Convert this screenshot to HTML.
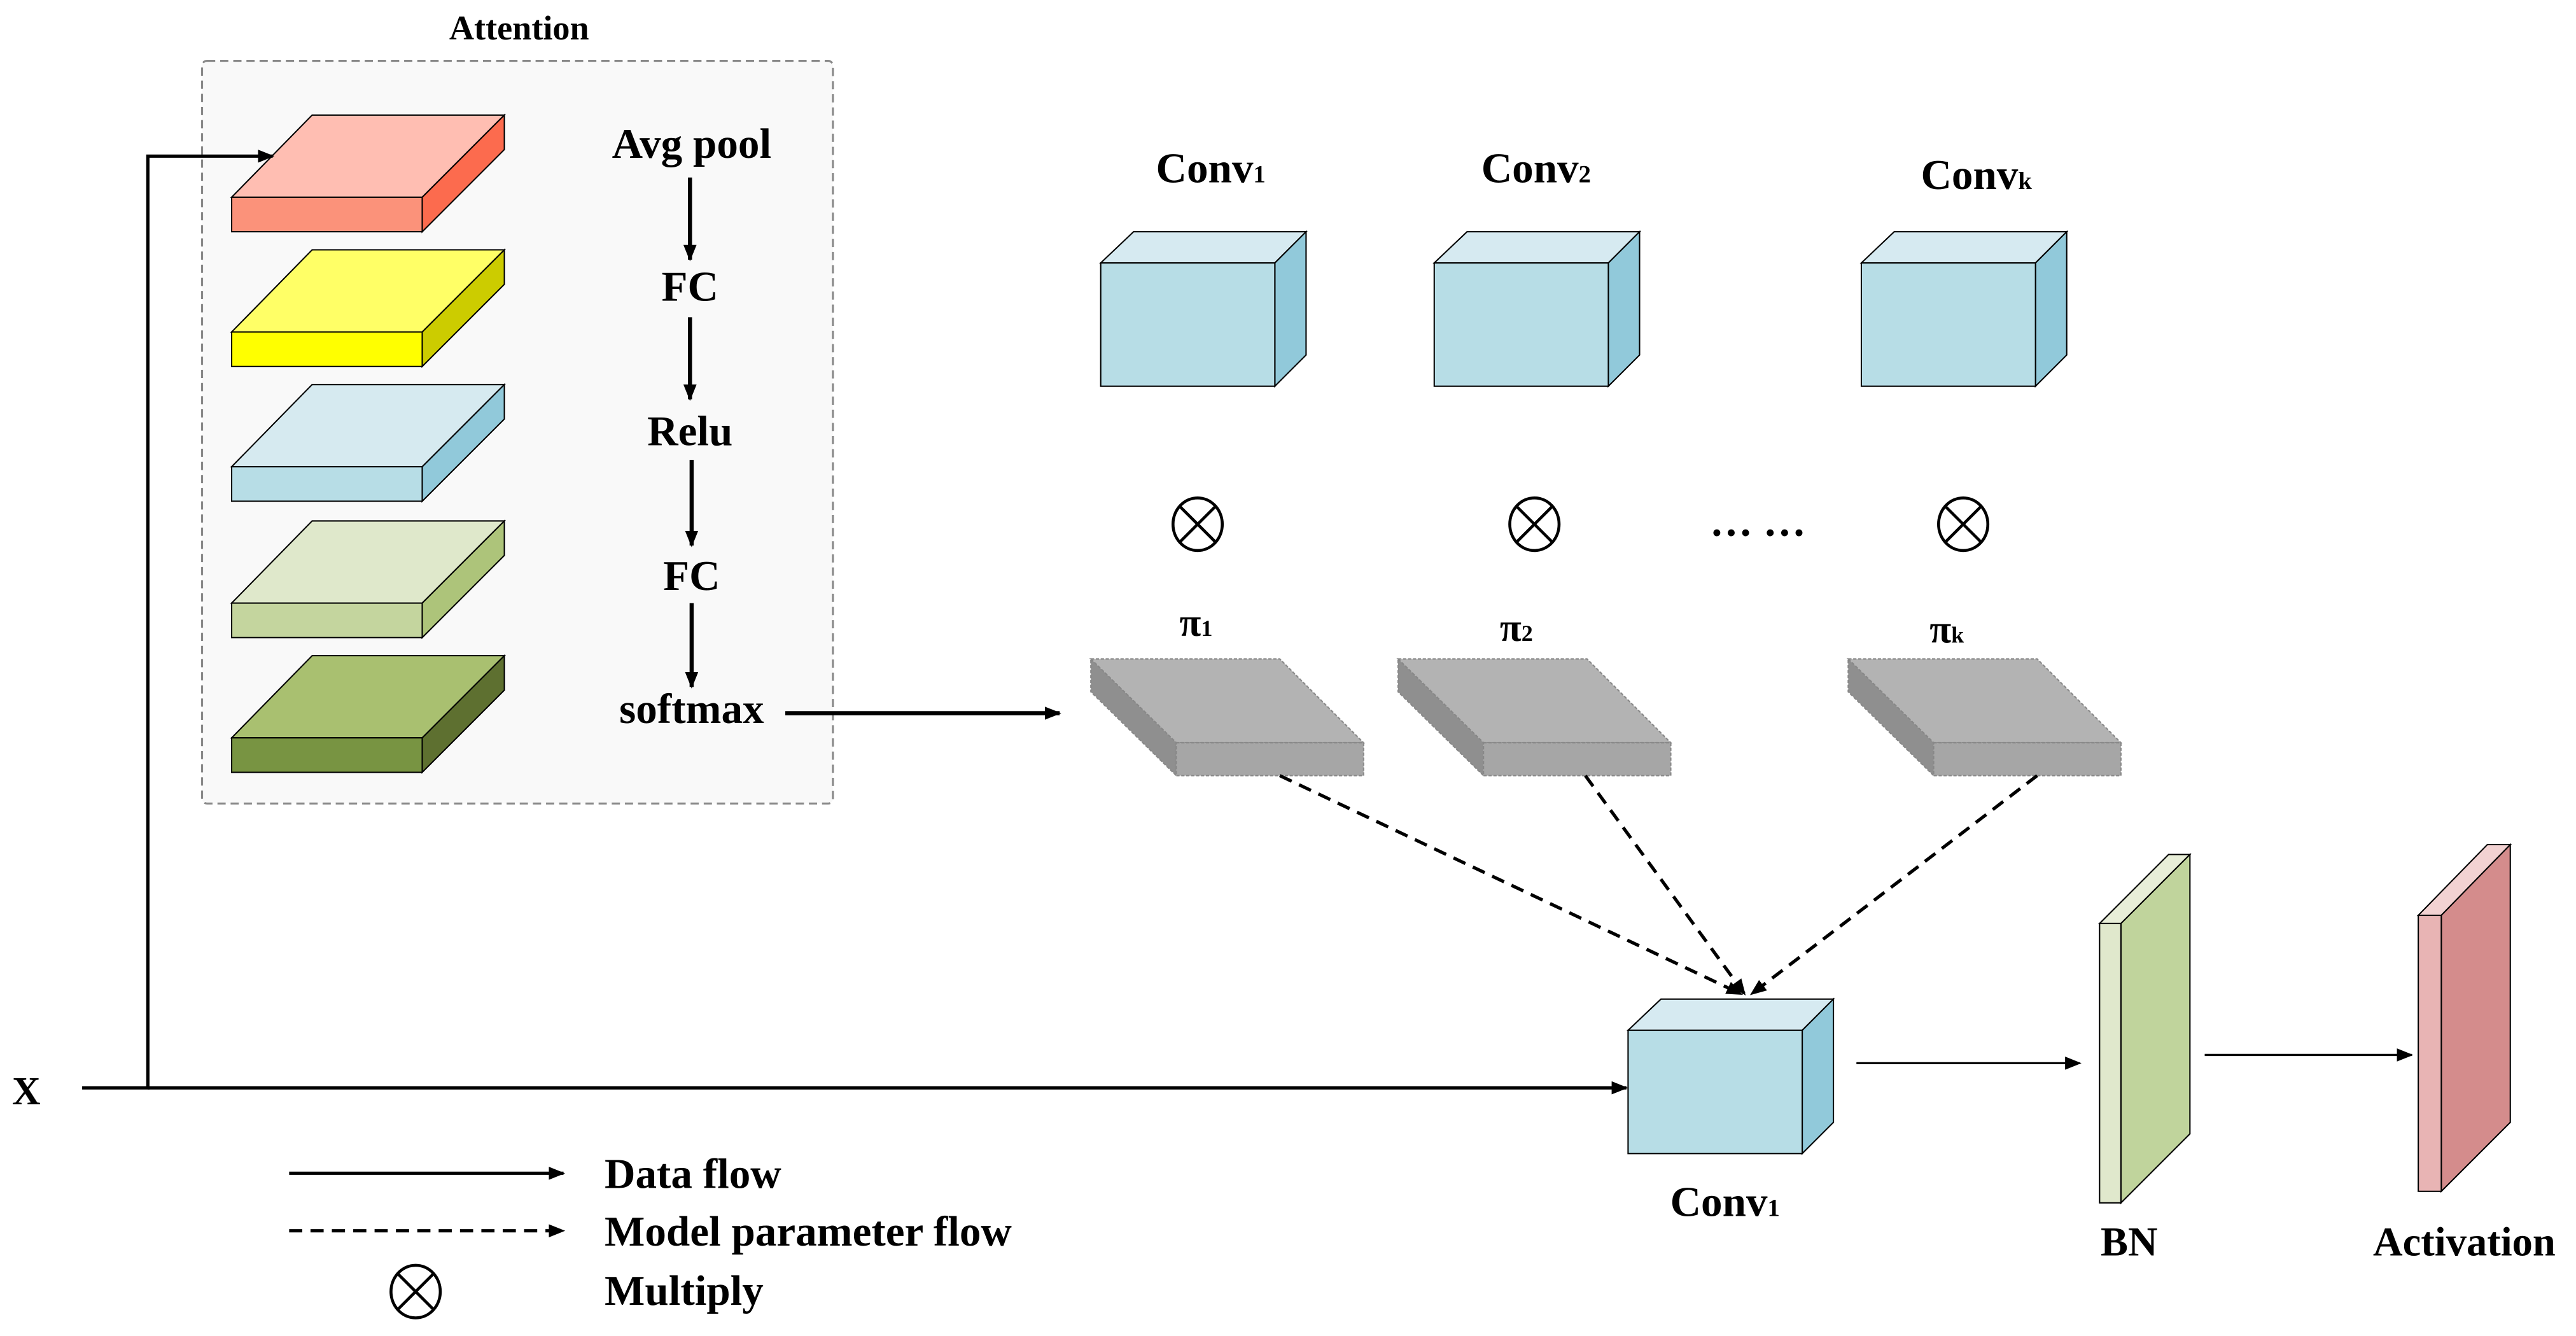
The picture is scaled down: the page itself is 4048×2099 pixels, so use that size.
<!DOCTYPE html>
<html><head><meta charset="utf-8"><style>
html,body{margin:0;padding:0;background:#fff}
svg{display:block}
text{font-family:"Liberation Serif",serif;font-weight:bold;fill:#000}
</style></head><body>
<svg width="4048" height="2099" viewBox="0 0 1568 813" xmlns="http://www.w3.org/2000/svg">
<defs>
<marker id="ah" markerWidth="10" markerHeight="8" refX="9" refY="4" orient="auto" markerUnits="userSpaceOnUse"><path d="M0,0 L10,4 L0,8 z" fill="#000"/></marker>
<marker id="ahs" markerWidth="10" markerHeight="8" refX="9" refY="4" orient="auto" markerUnits="userSpaceOnUse"><path d="M0,0 L10,4 L0,8 z" fill="#000"/></marker>
</defs>
<rect width="1568" height="813" fill="#fff"/>
<rect x="123" y="37" width="384" height="452" rx="3" fill="#f9f9f9" stroke="#888" stroke-width="1.2" stroke-dasharray="5,3"/>
<text x="316" y="24" font-size="21" text-anchor="middle">Attention</text>
<g stroke="#000" stroke-width="0.8">
<g><polygon points="141,120 190,70 307,70 257,120" fill="#ffbeb2"/><polygon points="257,120 307,70 307,91 257,141" fill="#fc6b4e"/><rect x="141" y="120" width="116" height="21" fill="#fb927a"/></g>
<g transform="translate(0,82)"><polygon points="141,120 190,70 307,70 257,120" fill="#ffff66"/><polygon points="257,120 307,70 307,91 257,141" fill="#cccc00"/><rect x="141" y="120" width="116" height="21" fill="#ffff00"/></g>
<g transform="translate(0,164)"><polygon points="141,120 190,70 307,70 257,120" fill="#d6eaf0"/><polygon points="257,120 307,70 307,91 257,141" fill="#91c9da"/><rect x="141" y="120" width="116" height="21" fill="#b7dde6"/></g>
<g transform="translate(0,247)"><polygon points="141,120 190,70 307,70 257,120" fill="#dfe8cb"/><polygon points="257,120 307,70 307,91 257,141" fill="#adc47a"/><rect x="141" y="120" width="116" height="21" fill="#c4d59e"/></g>
<g transform="translate(0,329)"><polygon points="141,120 190,70 307,70 257,120" fill="#a9c070"/><polygon points="257,120 307,70 307,91 257,141" fill="#5e7030"/><rect x="141" y="120" width="116" height="21" fill="#789442"/></g>
</g>
<g font-size="26" text-anchor="middle">
<text x="421" y="96">Avg pool</text>
<text x="420" y="183">FC</text>
<text x="420" y="271">Relu</text>
<text x="421" y="359">FC</text>
<text x="421" y="440">softmax</text>
</g>
<g stroke="#000" stroke-width="2.5" marker-end="url(#ah)">
<line x1="420" y1="108" x2="420" y2="158"/>
<line x1="420" y1="193" x2="420" y2="243"/>
<line x1="421" y1="280" x2="421" y2="332"/>
<line x1="421" y1="367" x2="421" y2="418"/>
</g>
<line x1="478" y1="434" x2="645" y2="434" stroke="#000" stroke-width="2.5" marker-end="url(#ah)"/>
<text x="16" y="672" font-size="24" text-anchor="middle">X</text>
<polyline points="50,662 90,662 90,95 166,95" fill="none" stroke="#000" stroke-width="2" marker-end="url(#ah)"/>
<line x1="90" y1="662" x2="990" y2="662" stroke="#000" stroke-width="2" marker-end="url(#ah)"/>
<g stroke="#000" stroke-width="0.8">
<g id="cube"><polygon points="670,160 690,141 795,141 776,160" fill="#d6eaf1"/><polygon points="776,160 795,141 795,216 776,235" fill="#91c9da"/><rect x="670" y="160" width="106" height="75" fill="#b7dde6"/></g>
<use href="#cube" x="203"/>
<use href="#cube" x="463"/>
<use href="#cube" x="321" y="467"/>
</g>
<g font-size="26" text-anchor="middle">
<text x="737" y="111">Conv<tspan font-size="15">1</tspan></text>
<text x="935" y="111">Conv<tspan font-size="15">2</tspan></text>
<text x="1203" y="115">Conv<tspan font-size="15">k</tspan></text>
<text x="1050" y="740">Conv<tspan font-size="15">1</tspan></text>
</g>
<g fill="none" stroke="#000" stroke-width="1.8">
<g id="ot"><ellipse cx="729" cy="319" rx="15" ry="16"/><line x1="718" y1="308" x2="740" y2="330"/><line x1="740" y1="308" x2="718" y2="330"/></g>
<use href="#ot" x="205"/>
<use href="#ot" x="466"/>
<use href="#ot" x="-476" y="467"/>
</g>
<text x="1070" y="326" font-size="26" text-anchor="middle">… …</text>
<g font-size="24" text-anchor="middle">
<text x="728" y="387">π<tspan font-size="14">1</tspan></text>
<text x="923" y="390">π<tspan font-size="14">2</tspan></text>
<text x="1185" y="391">π<tspan font-size="14">k</tspan></text>
</g>
<g stroke="#888" stroke-width="0.8" stroke-dasharray="2,1">
<g id="gs"><polygon points="664,401 779,401 830,452 716,452" fill="#b3b3b3"/><polygon points="664,401 716,452 716,472 664,421" fill="#8f8f8f"/><rect x="716" y="452" width="114" height="20" fill="#a6a6a6"/></g>
<use href="#gs" x="187"/>
<use href="#gs" x="461"/>
</g>
<g stroke="#000" stroke-width="2" stroke-dasharray="8,5" fill="none" marker-end="url(#ahs)">
<line x1="779" y1="472" x2="1060" y2="605"/>
<line x1="965" y1="472" x2="1062" y2="605"/>
<line x1="1240" y1="472" x2="1066" y2="605"/>
</g>
<line x1="1130" y1="647" x2="1266" y2="647" stroke="#000" stroke-width="1.3" marker-end="url(#ahs)"/>
<g stroke="#000" stroke-width="0.8">
<polygon points="1278,562 1291,562 1333,520 1320,520" fill="#e8eed8"/>
<polygon points="1291,562 1333,520 1333,690 1291,732" fill="#c0d49c"/>
<rect x="1278" y="562" width="13" height="170" fill="#e0e8cc"/>
</g>
<text x="1296" y="764" font-size="25" text-anchor="middle">BN</text>
<line x1="1342" y1="642" x2="1468" y2="642" stroke="#000" stroke-width="1.3" marker-end="url(#ahs)"/>
<g stroke="#000" stroke-width="0.8">
<polygon points="1472,557 1486,557 1528,514 1514,514" fill="#f2d2d2"/>
<polygon points="1486,557 1528,514 1528,683 1486,725" fill="#d48c8c"/>
<rect x="1472" y="557" width="14" height="168" fill="#e8b4b4"/>
</g>
<text x="1500" y="764" font-size="25" text-anchor="middle">Activation</text>
<line x1="176" y1="714" x2="343" y2="714" stroke="#000" stroke-width="2" marker-end="url(#ahs)"/>
<line x1="176" y1="749" x2="343" y2="749" stroke="#000" stroke-width="2" stroke-dasharray="8,5" marker-end="url(#ahs)"/>
<g font-size="26">
<text x="368" y="723">Data flow</text>
<text x="368" y="758">Model parameter flow</text>
<text x="368" y="794">Multiply</text>
</g>
</svg>
</body></html>
